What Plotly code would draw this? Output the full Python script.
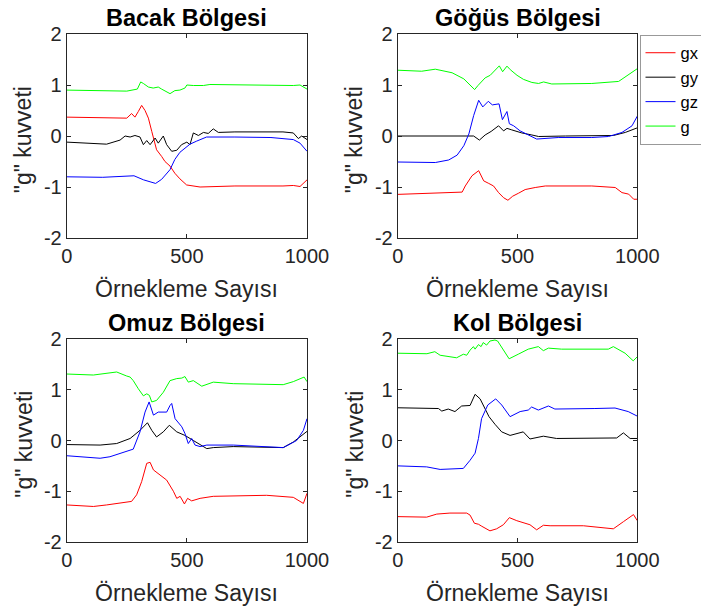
import plotly.graph_objects as go

# ---------------- data (sample index, g value) ----------------
# Bacak Bölgesi
bacak_gx_x = [0, 160, 250, 270, 284, 298, 312, 326, 340, 354, 374, 395, 409, 430, 450, 471, 499, 555, 700, 900, 943, 971, 1000]
bacak_gx_y = [0.37, 0.35, 0.35, 0.44, 0.37, 0.48, 0.60, 0.50, 0.35, 0.09, -0.27, -0.40, -0.50, -0.59, -0.73, -0.84, -0.96, -1.0, -0.98, -0.98, -0.97, -0.99, -0.86]
bacak_gy_x = [0, 166, 222, 243, 264, 284, 305, 319, 333, 347, 368, 381, 402, 416, 437, 458, 478, 500, 513, 527, 548, 569, 589, 610, 631, 700, 900, 943, 964, 978, 1000]
bacak_gy_y = [-0.12, -0.16, -0.08, 0.0, -0.02, 0.01, -0.02, -0.17, -0.09, -0.17, -0.04, -0.14, 0.0, -0.17, -0.30, -0.28, -0.17, -0.12, -0.17, 0.06, 0.01, 0.07, 0.05, 0.14, 0.07, 0.08, 0.08, 0.06, -0.05, 0.0, -0.07]
bacak_gz_x = [0, 150, 280, 320, 370, 395, 430, 450, 471, 492, 513, 541, 582, 700, 850, 943, 971, 1000]
bacak_gz_y = [-0.80, -0.81, -0.78, -0.86, -0.93, -0.85, -0.66, -0.46, -0.32, -0.24, -0.16, -0.10, -0.02, -0.02, -0.03, -0.07, -0.14, -0.30]
bacak_g_x = [0, 250, 294, 308, 319, 340, 360, 381, 395, 416, 430, 450, 471, 492, 500, 527, 569, 596, 700, 850, 943, 971, 1000]
bacak_g_y = [0.90, 0.88, 0.92, 1.06, 1.03, 0.96, 0.94, 0.96, 0.92, 0.87, 0.83, 0.89, 0.90, 0.94, 1.0, 0.99, 0.99, 1.01, 1.0, 1.0, 0.99, 1.0, 0.92]

# Göğüs Bölgesi
gogus_gx_x = [0, 157, 269, 282, 310, 338, 359, 380, 400, 421, 442, 460, 480, 505, 532, 574, 616, 810, 908, 936, 964, 985, 1000]
gogus_gx_y = [-1.145, -1.12, -1.10, -0.98, -0.78, -0.68, -0.88, -0.93, -0.98, -1.11, -1.21, -1.26, -1.18, -1.12, -1.05, -1.01, -0.98, -0.98, -1.01, -1.11, -1.14, -1.24, -1.24]
gogus_gy_x = [0, 282, 317, 341, 365, 390, 421, 442, 456, 476, 518, 560, 588, 700, 900, 950, 978, 1000]
gogus_gy_y = [0.0, -0.01, 0.0, -0.08, 0.02, 0.09, 0.20, 0.10, 0.15, 0.12, 0.06, 0.02, -0.01, 0.0, 0.01, 0.07, 0.12, 0.16]
gogus_gz_x = [0, 157, 213, 248, 276, 297, 317, 338, 355, 378, 395, 423, 437, 456, 466, 484, 511, 545, 580, 670, 810, 880, 936, 978, 1000]
gogus_gz_y = [-0.51, -0.52, -0.47, -0.375, -0.19, 0.04, 0.40, 0.70, 0.57, 0.68, 0.61, 0.63, 0.32, 0.48, 0.24, 0.20, 0.10, 0.02, -0.06, -0.03, -0.03, -0.01, 0.07, 0.20, 0.39]
gogus_g_x = [0, 100, 157, 227, 276, 310, 321, 335, 351, 365, 386, 407, 424, 438, 456, 470, 498, 525, 560, 588, 609, 643, 810, 922, 964, 1000]
gogus_g_y = [1.29, 1.27, 1.31, 1.24, 1.12, 0.96, 0.91, 0.99, 1.06, 1.14, 1.19, 1.29, 1.375, 1.26, 1.37, 1.30, 1.19, 1.11, 1.05, 1.03, 1.06, 1.02, 1.03, 1.07, 1.20, 1.32]

# Omuz Bölgesi
omuz_gx_x = [0, 111, 166, 222, 270, 291, 312, 333, 347, 361, 388, 416, 444, 458, 472, 490, 503, 520, 555, 610, 832, 943, 985, 1000]
omuz_gx_y = [-1.27, -1.30, -1.27, -1.24, -1.20, -1.07, -0.81, -0.45, -0.43, -0.58, -0.68, -0.78, -1.0, -1.14, -1.10, -1.25, -1.14, -1.19, -1.14, -1.10, -1.08, -1.12, -1.24, -1.04]
omuz_gy_x = [0, 139, 208, 264, 305, 336, 354, 374, 402, 427, 458, 492, 527, 583, 610, 693, 901, 943, 1000]
omuz_gy_y = [-0.08, -0.09, -0.06, 0.04, 0.20, 0.35, 0.20, 0.07, 0.17, 0.30, 0.17, 0.10, 0.0, -0.16, -0.14, -0.12, -0.14, -0.03, 0.18]
omuz_gz_x = [0, 69, 139, 180, 250, 277, 305, 326, 343, 361, 381, 416, 430, 437, 451, 465, 479, 492, 506, 520, 534, 555, 583, 693, 901, 957, 985, 1000]
omuz_gz_y = [-0.30, -0.32, -0.35, -0.32, -0.22, -0.17, 0.17, 0.56, 0.76, 0.50, 0.56, 0.56, 0.69, 0.73, 0.43, 0.35, 0.27, 0.14, -0.06, 0.04, -0.09, -0.12, -0.09, -0.09, -0.14, 0.0, 0.20, 0.43]
omuz_g_x = [0, 111, 208, 236, 250, 264, 277, 298, 319, 333, 344, 354, 374, 402, 430, 458, 479, 492, 506, 527, 562, 610, 693, 901, 943, 988, 1000]
omuz_g_y = [1.31, 1.29, 1.35, 1.29, 1.27, 1.25, 1.18, 1.02, 0.88, 0.92, 0.89, 0.76, 0.79, 0.95, 1.18, 1.22, 1.23, 1.26, 1.15, 1.18, 1.07, 1.15, 1.12, 1.10, 1.16, 1.25, 1.16]

# Kol Bölgesi
kol_gx_x = [0, 121, 163, 218, 288, 302, 320, 337, 351, 371, 385, 413, 441, 466, 497, 552, 580, 608, 636, 775, 900, 942, 984, 1000]
kol_gx_y = [-1.50, -1.51, -1.45, -1.43, -1.43, -1.47, -1.63, -1.65, -1.69, -1.74, -1.78, -1.74, -1.66, -1.52, -1.58, -1.66, -1.76, -1.67, -1.68, -1.68, -1.74, -1.60, -1.46, -1.58]
kol_gy_x = [0, 170, 184, 211, 239, 267, 302, 323, 344, 362, 381, 406, 434, 469, 524, 552, 608, 663, 775, 914, 942, 970, 1000]
kol_gy_y = [0.645, 0.63, 0.58, 0.62, 0.57, 0.68, 0.69, 0.91, 0.82, 0.64, 0.47, 0.32, 0.17, 0.10, 0.17, 0.03, 0.085, 0.04, 0.04, 0.05, 0.15, 0.04, 0.04]
kol_gz_x = [0, 121, 177, 274, 302, 323, 337, 350, 376, 409, 434, 469, 511, 545, 559, 587, 629, 656, 823, 907, 962, 1000]
kol_gz_y = [-0.50, -0.52, -0.57, -0.55, -0.39, -0.25, 0.04, 0.43, 0.70, 0.82, 0.70, 0.47, 0.57, 0.60, 0.66, 0.60, 0.68, 0.62, 0.63, 0.64, 0.57, 0.48]
kol_g_x = [0, 122, 155, 177, 246, 274, 288, 302, 316, 323, 337, 348, 357, 371, 385, 406, 417, 434, 465, 503, 545, 587, 608, 629, 684, 879, 900, 949, 983, 1000]
kol_g_y = [1.72, 1.71, 1.75, 1.68, 1.63, 1.70, 1.68, 1.78, 1.85, 1.80, 1.89, 1.85, 1.93, 1.88, 1.96, 1.98, 1.96, 1.83, 1.61, 1.70, 1.80, 1.85, 1.77, 1.82, 1.80, 1.80, 1.85, 1.72, 1.57, 1.65]

titles = ["Bacak Bölgesi", "Göğüs Bölgesi", "Omuz Bölgesi", "Kol Bölgesi"]
series_names = ["gx", "gy", "gz", "g"]
x_ticks = [0, 500, 1000]
y_ticks = [-2, -1, 0, 1, 2]
y_tick_labels = ["-2", "-1", "0", "1", "2"]

panels = [
    [(bacak_gx_x, bacak_gx_y), (bacak_gy_x, bacak_gy_y), (bacak_gz_x, bacak_gz_y), (bacak_g_x, bacak_g_y)],
    [(gogus_gx_x, gogus_gx_y), (gogus_gy_x, gogus_gy_y), (gogus_gz_x, gogus_gz_y), (gogus_g_x, gogus_g_y)],
    [(omuz_gx_x, omuz_gx_y), (omuz_gy_x, omuz_gy_y), (omuz_gz_x, omuz_gz_y), (omuz_g_x, omuz_g_y)],
    [(kol_gx_x, kol_gx_y), (kol_gy_x, kol_gy_y), (kol_gz_x, kol_gz_y), (kol_g_x, kol_g_y)],
]

# ---------------- styling / layout ----------------
W, H = 701, 612
colors = ["#ff0000", "#000000", "#0000ff", "#00ff00"]
FONT = "Liberation Sans, Arial, Helvetica, sans-serif"
AX = "#262626"

# pixel boxes of the four axes: (left, right, top, bottom)
boxes = [(66.7, 307.0, 34.0, 238.0), (397.7, 637.3, 34.0, 238.0),
         (66.7, 307.0, 339.0, 542.0), (397.7, 637.3, 339.0, 542.0)]

fig = go.Figure()
annotations = []
for i, (panel, box) in enumerate(zip(panels, boxes)):
    sfx = "" if i == 0 else str(i + 1)
    for j, (xs, ys) in enumerate(panel):
        fig.add_trace(go.Scatter(
            x=xs, y=ys, mode="lines", name=series_names[j],
            line=dict(color=colors[j], width=1),
            xaxis="x" + sfx, yaxis="y" + sfx,
            showlegend=(i == 1), hoverinfo="skip",
        ))
    l, r, t, b = box
    xd = [l / W, r / W]
    yd = [1 - b / H, 1 - t / H]
    common = dict(showgrid=False, zeroline=False, showline=True, linecolor=AX, linewidth=1,
                  mirror="ticks", ticks="inside", ticklen=4, tickcolor=AX, tickwidth=1,
                  tickfont=dict(family=FONT, size=20, color=AX))
    fig.update_layout(**{
        "xaxis" + sfx: dict(domain=xd, range=[0, 1000], tickvals=x_ticks, anchor="y" + sfx, **common),
        "yaxis" + sfx: dict(domain=yd, range=[-2, 2], tickvals=y_ticks, ticktext=y_tick_labels,
                            anchor="x" + sfx, **common),
    })
    cx = (l + r) / 2 / W
    annotations.append(dict(text="<b>" + titles[i] + "</b>", x=cx, y=1 - (t - 1) / H,
                            xref="paper", yref="paper", xanchor="center", yanchor="bottom",
                            showarrow=False, font=dict(family=FONT, size=23.5, color="#000000")))
    annotations.append(dict(text="Örnekleme Sayısı", x=cx, y=1 - (b + 51) / H,
                            xref="paper", yref="paper", xanchor="center", yanchor="middle",
                            showarrow=False, font=dict(family=FONT, size=23, color=AX)))
    annotations.append(dict(text='"g" kuvveti', x=(l - 43.5) / W, y=1 - ((t + b) / 2 + 4) / H,
                            xref="paper", yref="paper", xanchor="center", yanchor="middle",
                            textangle=-90, showarrow=False, font=dict(family=FONT, size=23, color=AX)))

fig.update_layout(
    width=W, height=H,
    margin=dict(l=0, r=0, t=0, b=0, autoexpand=False),
    paper_bgcolor="white", plot_bgcolor="white",
    annotations=annotations,
    legend=dict(x=639.5 / W, y=1 - 34.5 / H, xanchor="left", yanchor="top",
                bgcolor="white", bordercolor="#999999", borderwidth=1,
                font=dict(family=FONT, size=16.5, color="#000000"),
                tracegroupgap=0, traceorder="normal"),
    showlegend=True,
)

fig.write_html("out.html", config={"displayModeBar": False},
               post_script="document.body.style.margin='0';document.body.style.overflow='hidden';")
